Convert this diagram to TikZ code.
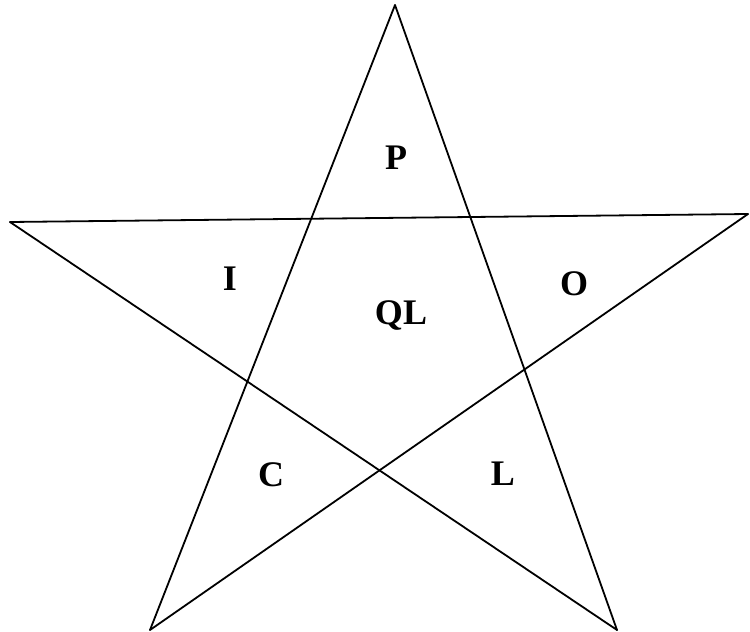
\documentclass[tikz,border=0pt]{standalone}
\usepackage{fontspec}
\setmainfont{Liberation Serif}
\begin{document}
\begin{tikzpicture}[x=1pt,y=-1pt,
  edge/.style={line width=1.8pt,line cap=round,line join=miter},
  lbl/.style={anchor=base,inner sep=0pt,font=\fontsize{36}{36}\selectfont\bfseries}]
\useasboundingbox (0,0) rectangle (750,632);
\coordinate (T) at (395,5);
\coordinate (Lv) at (10,222);
\coordinate (Rv) at (748,214);
\coordinate (BL) at (150,630);
\coordinate (BR) at (617,630);
\draw[edge] (T) -- (BL);
\draw[edge] (T) -- (BR);
\draw[edge] (Lv) -- (Rv);
\draw[edge] (Lv) -- (BR);
\draw[edge] (Rv) -- (BL);
\node[lbl] (p) at (396,169) {P};
\node[lbl] (i) at (230,290) {I};
\node[lbl] (o) at (574,295) {O};
\node[lbl] (ql) at (401,324) {QL};
\node[lbl] (c) at (271,486) {C};
\node[lbl] (l) at (503,485) {L};
\end{tikzpicture}
\end{document}
